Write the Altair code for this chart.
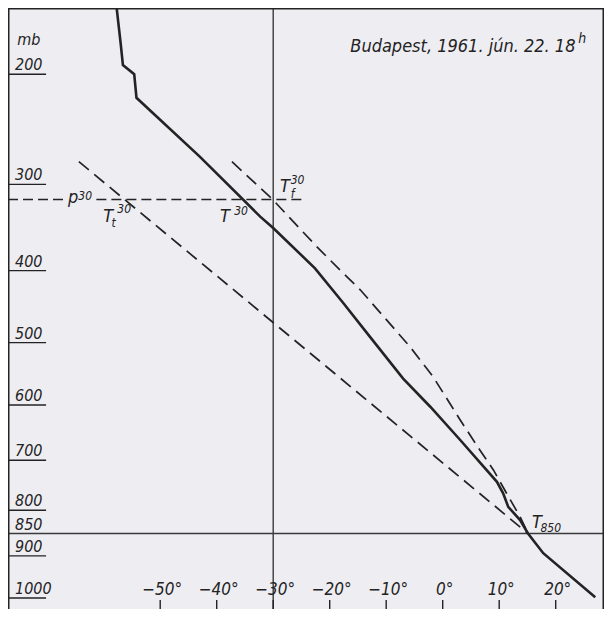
import altair as alt
import pandas as pd

# ---------------- data ----------------
# plotted window (temperature degC, pressure mb)
T_MIN, T_MAX = -76.94, 28.55
P_MIN, P_MAX = 152.93, 1027.35

# observed temperature sounding (solid line)
snd_T = [-57.8, -57.0, -56.6, -54.6, -54.2, -43.0, -32.3, -30.0, -22.6, -17.6,
         -12.9, -7.0, -2.2, 3.1, 9.6, 10.7, 11.6, 13.7, 15.1, 17.8, 27.0]
snd_p = [150, 177, 193, 200, 219, 272, 335, 348, 397, 443,
         491, 556, 603, 662, 742, 765, 793, 821, 850, 894, 998]

# moist adiabat through T850 (right dashed line)
moist_T = [-37.3, -30.1, -26.4, -22.3, -18.2, -14.6, -9.9, -5.8, -1.7, 3.1,
           6.6, 9.0, 11.3, 13.7, 15.1]
moist_p = [277, 316, 341, 370, 399, 425, 467, 506, 553, 626,
           681, 719, 765, 814, 850]

# dry adiabat through T850 (left dashed line)
dry_T = [-64.4, 15.1]
dry_p = [277, 850]

# p30 level (horizontal dashed line, interrupted by its label)
p30 = 316
p30_seg_T1 = [T_MIN, -61.3]
p30_seg_T2 = [-66.8, -24.7]

# isolines drawn across the diagram
iso_T = -30
iso_p = 850

# pressure scale labels
p_levels = [200, 300, 400, 500, 600, 700, 800, 900, 1000]
p_label_levels = [200, 300, 400, 500, 600, 700, 800, 850, 900, 1000]
p_tick_end_T = -70.2
p_label_T = -75.7

# temperature scale
t_ticks = [-50, -40, -30, -20, -10, 0, 10, 20]
t_labels = ["−50°", "−40°", "−30°", "−20°", "−10°", "0°", "10°", "20°"]
t_tick_top_p = 1004.9
t_label_p = 993

# annotations (anchor = left end of text baseline)
big_text = ["T", "T", "T", "p", "T"]
big_T = [-28.8, -39.4, -60.1, -66.3, 15.8]
big_p = [308, 341, 341, 320, 838]

small_text = ["30", "f", "30", "30", "t", "30", "850"]
small_T = [-26.9, -26.9, -36.9, -57.6, -58.6, -64.5, 17.3]
small_p = [300, 314, 333, 331, 347, 317, 847]

title_text = "Budapest, 1961. jún. 22. 18"
title_T, title_p = 23.5, 183
title_sup = "h"
title_sup_T, title_sup_p = 24.0, 177

mb_text = "mb"
mb_T, mb_p = -75.3, 178

# ---------------- chart ----------------
INK = "#232323"
FONT = "DejaVu Sans Condensed, DejaVu Sans, sans-serif"

xs = alt.Scale(domain=[T_MIN, T_MAX], nice=False, zero=False)
ys = alt.Scale(type="pow", exponent=0.286, domain=[P_MIN, P_MAX],
               reverse=True, nice=False, zero=False)


def X(f="T"):
    return alt.X(f"{f}:Q", scale=xs, axis=None)


def Y(f="p"):
    return alt.Y(f"{f}:Q", scale=ys, axis=None)


def rules(df, **kw):
    return alt.Chart(df).mark_rule(**kw).encode(
        x=X("x"), x2=alt.X2("x2:Q"), y=Y("y"), y2=alt.Y2("y2:Q"))


frame_df = pd.DataFrame({
    "x": [T_MIN, T_MIN, T_MAX],
    "x2": [T_MIN, T_MAX, T_MAX],
    "y": [P_MIN, P_MIN, P_MIN],
    "y2": [P_MAX, P_MIN, P_MAX],
})
frame = rules(frame_df, color=INK, strokeWidth=3)

iso_df = pd.DataFrame({
    "x": [iso_T, T_MIN], "x2": [iso_T, T_MAX],
    "y": [P_MIN, iso_p], "y2": [P_MAX, iso_p],
})
iso = rules(iso_df, color="#3a3a3a", strokeWidth=1.4)

ptick_df = pd.DataFrame({
    "x": [T_MIN] * len(p_levels), "x2": [p_tick_end_T] * len(p_levels),
    "y": p_levels, "y2": p_levels,
})
pticks = rules(ptick_df, color=INK, strokeWidth=1.4)

ttick_df = pd.DataFrame({
    "x": t_ticks, "x2": t_ticks,
    "y": [t_tick_top_p] * len(t_ticks), "y2": [P_MAX] * len(t_ticks),
})
tticks = rules(ttick_df, color=INK, strokeWidth=1.4)

p30_df = pd.DataFrame({
    "x": [p30_seg_T1[0], p30_seg_T1[1]], "x2": [p30_seg_T2[0], p30_seg_T2[1]],
    "y": [p30, p30], "y2": [p30, p30],
})
p30_line = rules(p30_df, color=INK, strokeWidth=1.6, strokeDash=[10, 5])

adiab_df = pd.concat([
    pd.DataFrame({"T": dry_T, "p": dry_p, "i": range(len(dry_T)), "s": "dry"}),
    pd.DataFrame({"T": moist_T, "p": moist_p, "i": range(len(moist_T)), "s": "moist"}),
])
adiabats = alt.Chart(adiab_df).mark_line(
    color=INK, strokeWidth=1.7, strokeDash=[13, 7], clip=True
).encode(x=X(), y=Y(), detail="s:N", order="i:Q")

snd_df = pd.DataFrame({"T": snd_T, "p": snd_p, "i": range(len(snd_T))})
sounding = alt.Chart(snd_df).mark_line(
    color=INK, strokeWidth=2.6, clip=True, strokeJoin="miter"
).encode(x=X(), y=Y(), order="i:Q")

plab_df = pd.DataFrame({"T": [p_label_T] * len(p_label_levels),
                        "p": p_label_levels,
                        "txt": [str(v) for v in p_label_levels]})
plabels = alt.Chart(plab_df).mark_text(
    font=FONT, fontStyle="italic", fontSize=16, color=INK,
    align="left", baseline="alphabetic", dy=-4
).encode(x=X(), y=Y(), text="txt:N")

tlab_df = pd.DataFrame({"T": t_ticks, "p": [t_label_p] * len(t_ticks), "txt": t_labels})
tlabels = alt.Chart(tlab_df).mark_text(
    font=FONT, fontStyle="italic", fontSize=17, color=INK,
    align="center", baseline="alphabetic", dx=2
).encode(x=X(), y=Y(), text="txt:N")

big_df = pd.DataFrame({"T": big_T, "p": big_p, "txt": big_text})
big = alt.Chart(big_df).mark_text(
    font=FONT, fontStyle="italic", fontSize=18, color=INK,
    align="left", baseline="alphabetic"
).encode(x=X(), y=Y(), text="txt:N")

small_df = pd.DataFrame({"T": small_T, "p": small_p, "txt": small_text})
small = alt.Chart(small_df).mark_text(
    font=FONT, fontStyle="italic", fontSize=12, color=INK,
    align="left", baseline="alphabetic"
).encode(x=X(), y=Y(), text="txt:N")

title_df = pd.DataFrame({"T": [title_T], "p": [title_p], "txt": [title_text]})
title = alt.Chart(title_df).mark_text(
    font=FONT, fontStyle="italic", fontSize=18, color=INK,
    align="right", baseline="alphabetic"
).encode(x=X(), y=Y(), text="txt:N")

tsup_df = pd.DataFrame({"T": [title_sup_T], "p": [title_sup_p], "txt": [title_sup]})
tsup = alt.Chart(tsup_df).mark_text(
    font=FONT, fontStyle="italic", fontSize=14, color=INK,
    align="left", baseline="alphabetic"
).encode(x=X(), y=Y(), text="txt:N")

mb_df = pd.DataFrame({"T": [mb_T], "p": [mb_p], "txt": [mb_text]})
mb = alt.Chart(mb_df).mark_text(
    font=FONT, fontStyle="italic", fontSize=16, color=INK,
    align="left", baseline="alphabetic"
).encode(x=X(), y=Y(), text="txt:N")

chart = alt.layer(
    iso, pticks, tticks, p30_line, adiabats, sounding, frame,
    plabels, tlabels, big, small, title, tsup, mb
).properties(
    width=596, height=601, padding=0,
    autosize=alt.AutoSizeParams(type="none"),
    background="#eeedf2",
).configure_view(stroke=None)

chart.save("out.html", embed_options={"renderer": "svg", "actions": False})
